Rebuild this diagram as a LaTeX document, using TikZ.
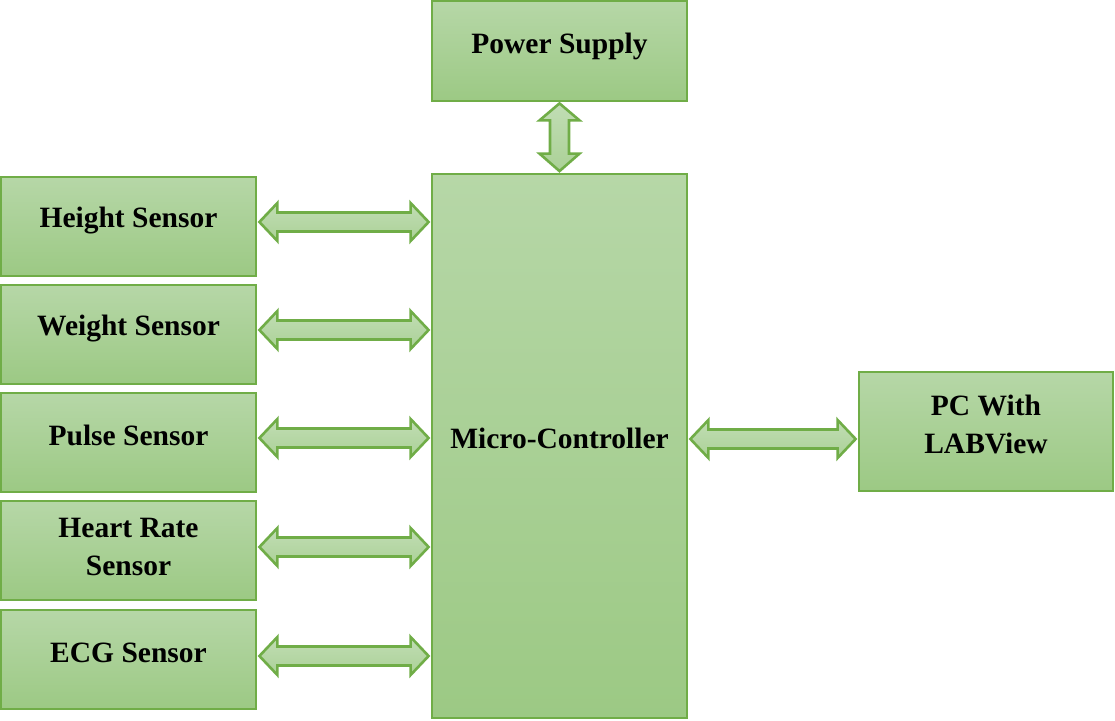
\documentclass[tikz,border=0pt]{standalone}
\usepackage{fontspec}
\setmainfont{Liberation Serif}
\usetikzlibrary{calc}
\definecolor{gtop}{HTML}{B6D7A7}
\definecolor{gbot}{HTML}{9CC984}
\definecolor{gline}{HTML}{70AD47}
% horizontal double arrow between two points (#1 left, #2 right)
\newcommand{\hdarrow}[2]{%
  \path[arr] let \p1=(#1), \p2=(#2) in
    (\x1+2pt,\y1) -- (\x1+20pt,\y1+19pt) -- (\x1+20pt,\y1+9.5pt) --
    (\x2-20pt,\y1+9.5pt) -- (\x2-20pt,\y1+19pt) -- (\x2-2pt,\y1) --
    (\x2-20pt,\y1-19pt) -- (\x2-20pt,\y1-9.5pt) -- (\x1+20pt,\y1-9.5pt) --
    (\x1+20pt,\y1-19pt) -- cycle;}
% vertical double arrow between two points (#1 top, #2 bottom)
\newcommand{\vdarrow}[2]{%
  \path[arr] let \p1=(#1), \p2=(#2) in
    (\x1,\y1-1pt) -- (\x1+20pt,\y1-18pt) -- (\x1+9.5pt,\y1-18pt) --
    (\x1+9.5pt,\y2+19pt) -- (\x1+20pt,\y2+19pt) -- (\x1,\y2+1.5pt) --
    (\x1-20pt,\y2+19pt) -- (\x1-9.5pt,\y2+19pt) -- (\x1-9.5pt,\y1-18pt) --
    (\x1-20pt,\y1-18pt) -- cycle;}
\begin{document}
\begin{tikzpicture}[x=1pt,y=-1pt,
  blk/.style={draw=gline, line width=2.8pt, top color=gtop, bottom color=gbot, inner sep=0pt},
  lbl/.style={inner sep=0pt, align=center, text=black,
    font=\bfseries\fontsize{29.5}{38}\selectfont},
  arr/.style={draw=gline, line width=2.6pt, top color=gtop!85!white, bottom color=gbot!85!white, line join=miter}]
\useasboundingbox (0,0) rectangle (1115,720);

\node[blk, minimum width=255pt, minimum height=100pt] (ps) at (559.5,51) {};
\node[blk, minimum width=255pt, minimum height=544pt] (mc) at (559.5,446) {};
\node[blk, minimum width=255pt, minimum height=99pt] (hs) at (128.5,226.5) {};
\node[blk, minimum width=255pt, minimum height=99pt] (ws) at (128.5,334.5) {};
\node[blk, minimum width=255pt, minimum height=99pt] (pls) at (128.5,442.5) {};
\node[blk, minimum width=255pt, minimum height=99pt] (hr) at (128.5,550.5) {};
\node[blk, minimum width=255pt, minimum height=99pt] (ecg) at (128.5,659.5) {};
\node[blk, minimum width=254pt, minimum height=119pt] (pc) at (986,431.5) {};

\node[lbl] (psT) at ($(ps.center)+(0,-5)$) {Power Supply};
\node[lbl] (mcT) at ($(mc.center)+(0,-8)$) {Micro-Controller};
\node[lbl] (hsT) at ($(hs.center)+(0,-6)$) {Height Sensor};
\node[lbl] (wsT) at ($(ws.center)+(0,-6)$) {Weight Sensor};
\node[lbl] (plsT) at ($(pls.center)+(0,-7)$) {Pulse Sensor};
\node[lbl] (hrT) at ($(hr.center)+(0,-4)$) {Heart Rate\\Sensor};
\node[lbl] (ecgT) at ($(ecg.center)+(0,-7)$) {ECG Sensor};
\node[lbl] (pcT) at ($(pc.center)+(0,-7.5)$) {PC With\\LABView};

\vdarrow{ps.south}{mc.north}
\hdarrow{$(hs.east)+(0,-4.5)$}{$(mc.west |- hs.east)+(0,-4.5)$}
\hdarrow{$(ws.east)+(0,-4.5)$}{$(mc.west |- ws.east)+(0,-4.5)$}
\hdarrow{$(pls.east)+(0,-4.5)$}{$(mc.west |- pls.east)+(0,-4.5)$}
\hdarrow{$(hr.east)+(0,-3.5)$}{$(mc.west |- hr.east)+(0,-3.5)$}
\hdarrow{$(ecg.east)+(0,-3.5)$}{$(mc.west |- ecg.east)+(0,-3.5)$}
\hdarrow{$(mc.east |- pc.west)+(0,7.5)$}{$(pc.west)+(0,7.5)$}
\end{tikzpicture}
\end{document}
